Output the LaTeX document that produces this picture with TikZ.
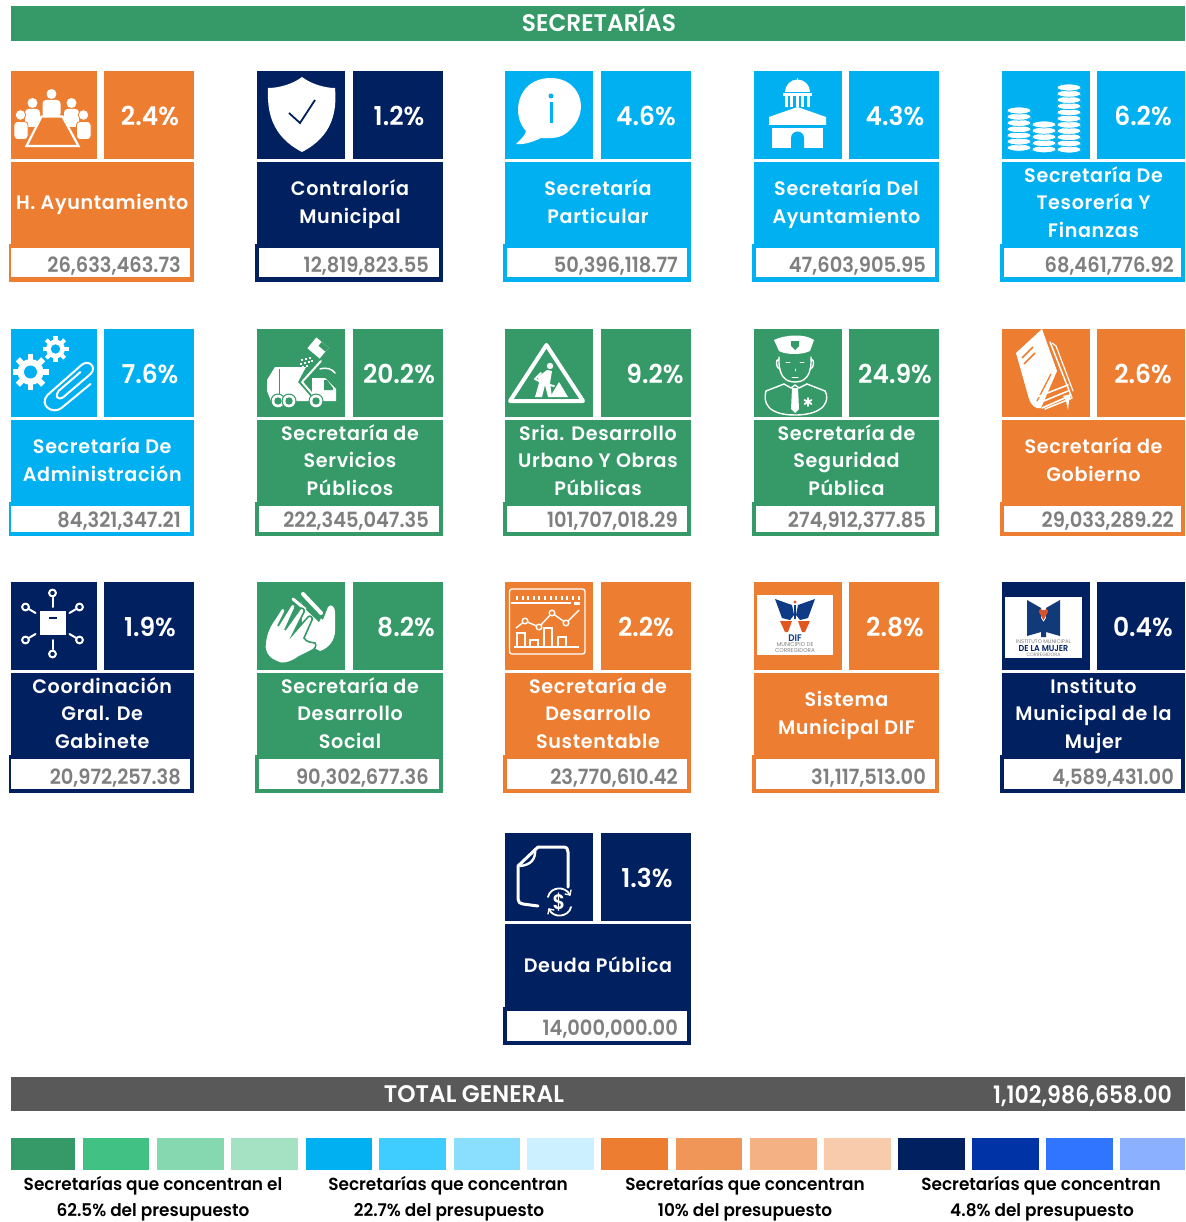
\documentclass[tikz,border=0pt]{standalone}
\usepackage{fontspec}
\setmainfont{Poppins}
\newfontfamily\namefont[FakeStretch=0.98,LetterSpace=3.5]{Poppins SemiBold}
\newfontfamily\valfont[FakeStretch=0.925]{Poppins SemiBold}
\newfontfamily\pctfont[FakeStretch=0.96]{Poppins SemiBold}
\newfontfamily\legfont[FakeStretch=0.965]{Poppins SemiBold}
\newfontfamily\headfont[FakeStretch=0.97]{Poppins SemiBold}
\newfontfamily\totfont[FakeStretch=0.92]{Poppins SemiBold}
\definecolor{grn}{HTML}{359A68}
\definecolor{orn}{HTML}{ED7D31}
\definecolor{blu}{HTML}{00B0F0}
\definecolor{nvy}{HTML}{002060}
\definecolor{gry}{HTML}{595959}
\definecolor{valgray}{HTML}{7F7F7F}
\colorlet{cc}{blu}
\tikzset{
  x=1pt,y=-1pt,
  pcttext/.style={text=white,inner sep=0,font=\pctfont\fontsize{26}{28}\selectfont},
  nametext/.style={text=white,inner sep=0,align=center,font=\namefont\fontsize{19.5}{27.6}\selectfont},
  valtext/.style={text=valgray,inner sep=0,anchor=east,font=\valfont\fontsize{21}{24}\selectfont},
  bartext/.style={text=white,inner sep=0,font=\headfont\fontsize{24}{26}\selectfont},
  legtext/.style={text=black,inner sep=0,font=\legfont\fontsize{17.5}{18}\selectfont},
  ln/.style={draw=white,line width=#1,line cap=round,line join=round},
  ln/.default=2,
  logotxt/.style={inner sep=0,align=center}
}
% columns and rows
\def\colA{\def\xa{10.5}\def\xb{97}\def\xc{104}\def\xd{194}\def\xo{9}\def\xw{11}\def\xe{190}\def\xt{181}\def\xr{194}}
\def\colB{\def\xa{257}\def\xb{345}\def\xc{353}\def\xd{443}\def\xo{255}\def\xw{259}\def\xe{439}\def\xt{429}\def\xr{443}}
\def\colC{\def\xa{505}\def\xb{593}\def\xc{601}\def\xd{691}\def\xo{503}\def\xw{507}\def\xe{687}\def\xt{678}\def\xr{691}}
\def\colD{\def\xa{754}\def\xb{842}\def\xc{849}\def\xd{939}\def\xo{752}\def\xw{756}\def\xe{935}\def\xt{926}\def\xr{939}}
\def\colE{\def\xa{1002}\def\xb{1090}\def\xc{1097}\def\xd{1185}\def\xo{1000}\def\xw{1004}\def\xe{1181}\def\xt{1174}\def\xr{1185}}
\def\rowA{\def\rt{71}\def\rn{162}\def\rb{244}\def\rw{248}\def\rz{277}\def\ro{282}\def\rv{266}}
\def\rowB{\def\rt{329}\def\rn{420}\def\rb{502}\def\rw{506}\def\rz{532}\def\ro{536}\def\rv{521.5}}
\def\rowC{\def\rt{582}\def\rn{673}\def\rb{755}\def\rw{759}\def\rz{789}\def\ro{793}\def\rv{778.5}}
\def\rowD{\def\rt{833}\def\rn{924}\def\rb{1007}\def\rw{1011}\def\rz{1041}\def\ro{1045}\def\rv{1029.5}}
% #1 id, #2 colour, #3 centre x of percent, #4 percent, #5 name, #6 value, #7 icon
\newcommand\card[7]{%
  \colorlet{cc}{#2}%
  \fill[cc] (\xa,\rt) rectangle (\xb,{\rt+88});
  \fill[cc] (\xc,\rt) rectangle (\xd,{\rt+88});
  \fill[cc] (\xa,\rn) rectangle (\xd,\rb);
  \fill[cc] (\xo,\rb) rectangle (\xr,\ro);
  \fill[white] (\xw,\rw) rectangle (\xe,\rz);
  \begin{scope}[shift={(\xa,\rt)}]#7\end{scope}
  \node[pcttext] (#1p) at (#3,{\rt+45}) {#4};
  \node[nametext] (#1n) at ({(\xa+\xd)/2},{(\rn+\rb)/2}) {\vphantom{Áy}#5\vphantom{Áy}};
  \node[valtext] (#1v) at (\xt,\rv) {#6};
}
\newcommand\personic[5]{%
  \fill[white] (#1,#2) circle (#3);
  \fill[white,rounded corners=3.5] ({#1-#4},#5) -- ({#1-#4},{#2+#3+1}) -- ({#1+#4},{#2+#3+1}) -- ({#1+#4},#5) -- cycle;
}
\newcommand\gearic[4]{%
  \fill[white] (#1,#2) circle ({0.72*#3});
  \foreach \k in {1,...,#4}{\draw[white,line width={0.32*#3}] (#1,#2) -- ({#1+#3*cos(360*\k/#4)},{#2+#3*sin(360*\k/#4)});}
  \fill[cc] (#1,#2) circle ({0.36*#3});
}
\newcommand\coinstack[3]{% x, top y, number of coins
  \foreach \k in {#3,...,1}{%
    \fill[white,draw=cc,line width=.7] (#1-12,{#2+3.5+6.2*(\k-1)}) -- ++(0,3.5) arc[start angle=180,end angle=360,x radius=12,y radius=3.5] -- ++(0,-3.5) -- cycle;
    \fill[white,draw=cc,line width=.7] (#1,{#2+3.5+6.2*(\k-1)}) ellipse (12 and 3.5);
  }
}
\newcommand\icPeople{%
  \personic{41}{23}{5}{9}{46}
  \personic{22}{32}{5}{7.5}{56}
  \personic{61}{32}{5}{7.5}{56}
  \draw[white,line width=2.2,fill=cc] (31,45.5) -- (52,45.5) -- (68,75) -- (16,75) -- cycle;
  \fill[white,draw=cc,line width=.8] (10,44) circle (5.3);
  \fill[white,draw=cc,line width=.8] (73,44) circle (5.3);
  \fill[white,draw=cc,line width=.8,rounded corners=3.5] (3.5,68.5) -- (3.5,50.5) -- (17.5,50.5) -- (17.5,68.5) -- cycle;
  \fill[white,draw=cc,line width=.8,rounded corners=3.5] (66,68.5) -- (66,50.5) -- (80.5,50.5) -- (80.5,68.5) -- cycle;
}
\newcommand\icShield{%
  \fill[white] (45,6) .. controls (36,13) and (22,17) .. (11,17) .. controls (10,40) and (14,65) .. (45,81) .. controls (76,65) and (80,40) .. (78,17) .. controls (68,17) and (54,13) .. (45,6) -- cycle;
  \draw[cc,line width=1.8] (32,42) -- (43,52) -- (58,29);
}
\newcommand\icInfo{%
  \fill[white] (11,73) .. controls (15,69) and (20,65) .. (21,60) .. controls (6,45) and (11,7) .. (46,7) .. controls (74,7) and (86,38) .. (66,58) .. controls (56,69) and (45,67) .. (36,67) .. controls (30,70) and (20,74) .. (11,73) -- cycle;
  \fill[cc] (44.5,31) rectangle (47.5,52);
  \fill[cc] (46,25) circle (2.5);
}
\newcommand\icCapitol{%
  \draw[white,line width=1.8] (43.5,7) -- (43.5,14);
  \fill[white] (31,21) arc[start angle=180,end angle=360,radius=12.5] -- cycle;
  \fill[white] (29,22.5) rectangle (58,25.5);
  \foreach \q in {30.5,36,41.5,47,52.5}{\fill[white] (\q,25) rectangle (\q+3,37);}
  \fill[cc] (15,36) rectangle (72,37);
  \fill[white] (15,46) -- (43.5,36) -- (72,46) -- (72,54) -- (15,54) -- cycle;
  \fill[white] (18,57) rectangle (69,77);
  \fill[cc] (37,77) -- (37,67) arc[start angle=180,end angle=360,radius=6.5] -- (50,77) -- cycle;
}
\newcommand\icCoins{%
  \coinstack{17}{36}{7}
  \coinstack{42}{50}{5}
  \coinstack{67}{13}{11}
}
\newcommand\icClip{%
  \gearic{20}{43}{18}{8}
  \gearic{45}{20}{13}{8}
  \draw[ln=2] (80,55) -- (51,79) .. controls (42,86) and (28,76) .. (37,66) -- (71,36) .. controls (78,30) and (87,38) .. (80,45) -- (53,68) .. controls (47,72) and (44,67) .. (48,62) -- (70,43);
}
\newcommand\icTruck{%
  \fill[white] (10,51) -- (18,38) -- (49,38) -- (41,53) -- (54,68) -- (52,72) -- (14,72) -- (10,62) -- cycle;
  \draw[cc,line width=1] (22,40) -- (22,70);
  \fill[white] (55,49) -- (68,49) -- (79,60) -- (79,72) -- (55,72) -- cycle;
  \fill[cc] (67,51) -- (70,51) -- (76,59) -- (76,61) -- (67,61) -- cycle;
  \draw[ln=2] (64,32) -- (45,53) -- (57,67);
  \draw[ln=1.5] (63,40) .. controls (70,38) and (75,40) .. (78,44);
  \fill[white,rotate around={-40:(61,19)}] (53,12) rectangle (69,26);
  \fill[cc,rotate around={-40:(61,19)}] (60,12) rectangle (69,17);
  \foreach \p/\q in {44/30,48/29,52/28,43/34,47/33,51/32,45/37,49/36,54/31}{\fill[white] (\p,\q) rectangle (\p+1.9,\q+1.9);}
  \foreach \p in {21,32,59}{\fill[cc] (\p,72) circle (7.5); \fill[white] (\p,72) circle (6.3); \fill[cc] (\p,72) circle (3.7);}
}
\newcommand\icWork{%
  \draw[white,line width=4,line join=round] (41.4,16) -- (5,72) -- (78,72) -- cycle;
  \fill[white] (45,37) circle (3.2);
  \fill[white] (42,41) -- (47,42) -- (45,54) -- (47,68) -- (43,68) -- (40,56) -- (37,68) -- (30,68) -- (34,54) -- (33,48) -- cycle;
  \draw[ln=2] (36,44) -- (30,50) -- (40,55) -- (49,57);
  \fill[white] (45,68) -- (54,53) -- (63,68) -- cycle;
}
\newcommand\icPolice{%
  \fill[white] (20,11) .. controls (30,6) and (50,4) .. (60,11) -- (56,22) .. controls (48,26) and (32,26) .. (25,22) -- cycle;
  \fill[cc] (37,12) -- (45,12) -- (45,17) -- (41,21) -- (37,17) -- cycle;
  \draw[ln=1.4] (25,28) .. controls (24,48) and (32,53) .. (41,53) .. controls (50,53) and (58,48) .. (57,28);
  \draw[ln=1.4] (25,30) .. controls (21,30) and (22,40) .. (26,40);
  \draw[ln=1.4] (57,30) .. controls (61,30) and (60,40) .. (56,40);
  \draw[ln=1] (38,48) -- (44,48);
  \draw[ln=.9] (32,33) -- (36,33) (46,33) -- (50,33) (41,40) -- (41,42);
  \draw[ln=1.4] (30,55) -- (12,62) .. controls (9,72) and (12,86) .. (41,86) .. controls (72,86) and (76,70) .. (71,62) -- (53,55);
  \draw[ln=1.4] (30,55) -- (37,59) -- (41,56) -- (45,59) -- (53,55);
  \fill[white] (38,59) -- (44,59) -- (45,80) -- (41,84) -- (37,80) -- cycle;
  \draw[ln=1.8] (54,69) -- (54,77) (50.5,71) -- (57.5,75) (50.5,75) -- (57.5,71);
}
\newcommand\icBook{%
  \draw[ln=1.5] (48,13) -- (70,69) -- (43,80);
  \draw[ln=1.2] (50,14) -- (54,17) -- (71,62);
  \fill[white] (40,0) -- (14,24) -- (27,70) .. controls (29,76) and (34,81) .. (39,79) -- (55,42) -- cycle;
  \draw[cc,line width=1.6] (20,29) -- (31,18) (22,35) -- (33,24);
  \draw[cc,line width=1.3] (49,45) -- (35,72);
  \draw[ln=1.6] (35,68) -- (66,56) (37,74) -- (66,62) (40,79) -- (65,68);
  \fill[white] (61,67) -- (69,65) -- (67,72) -- (66,81) -- (64,72) -- cycle;
}
\newcommand\icNet{%
  \fill[white] (29,29) rectangle (55,53);
  \fill[cc] (38,35) rectangle (46,37);
  \foreach \p/\q/\r/\s in {42/11/42/25, 15/25/25/31, 69/25/59/31, 15/58/25/52, 69/58/59/52, 42/72/42/58}{%
    \draw[ln=2] (\p,\q) -- (\r,\s);
    \fill[cc] (\p,\q) circle (4.4);
    \draw[white,line width=2] (\p,\q) circle (3.4);
  }
}
\newcommand\icHands{%
  \fill[white] (44,20) -- (66,38) -- (71,25) .. controls (74,21) and (78,25) .. (78,30) -- (78,49) .. controls (78,58) and (72,66) .. (63,69) -- (46,60) -- cycle;
  \fill[cc] (43,22) -- (47,18) -- (64,36) -- (62,40) -- cycle;
  \draw[ln=4] (46,12) -- (64,31);
  \draw[ln=3] (36,17) -- (48,27);
  \fill[white,draw=cc,line width=1.6] (8,62) .. controls (9,50) and (14,42) .. (17,38) -- (24,27) .. controls (26,25) and (29,27) .. (28,30) -- (21,44) -- (34,23) .. controls (36,21) and (39,23) .. (38,26) -- (28,48) -- (43,27) .. controls (45,25) and (48,27) .. (47,30) -- (36,52) -- (51,35) .. controls (53,33) and (56,35) .. (55,38) -- (47,56) .. controls (50,60) and (52,60) .. (58,61) .. controls (60,64) and (58,67) .. (54,69) -- (42,75) .. controls (32,82) and (24,83) .. (18,79) .. controls (11,76) and (7,70) .. (8,62) -- cycle;
}
\newcommand\icChart{%
  \draw[white,line width=1.4,rounded corners=2.5] (4.5,7) rectangle (80,72);
  \foreach \k in {0,...,11}{\fill[white] ({11+5.6*\k},13.5) rectangle ({13+5.6*\k},18);}
  \draw[white,line width=1.2] (6,21) -- (66,21);
  \fill[white] (69,19.5) rectangle (75,22.5);
  \foreach \p/\q in {16/51,29/58,43/46,57/55}{\draw[white,line width=1.4] (\p-4,64.5) -- (\p-4,\q) -- (\p+4,\q) -- (\p+4,64.5);}
  \draw[white,line width=1.4] (9,65) -- (74,65);
  \draw[white,line width=1.4] (11,46) -- (20,39) -- (34,45) -- (47,31) -- (61,41) -- (74,28);
  \foreach \p/\q in {20/39,34/45,47/31,61/41}{\fill[cc,draw=white,line width=1.4] (\p,\q) circle (2.8);}
}
\newcommand\icDif{%
  \fill[white] (2.6,13) rectangle (79,73);
  \definecolor{difb}{HTML}{0F3A86}\definecolor{difo}{HTML}{E2561F}
  \fill[difb] (21,17) -- (38,23) -- (40,33) -- (36,38) -- (28,36) -- cycle;
  \fill[difb] (61,17) -- (44,23) -- (42,33) -- (46,38) -- (54,36) -- cycle;
  \fill[difo] (41,20) circle (1.6);
  \draw[difb,line width=1.6] (41,23) -- (41,37);
  \fill[difo] (26,39) -- (38,39) -- (34,50) -- (31,50) -- cycle;
  \fill[difo] (56,39) -- (44,39) -- (48,50) -- (51,50) -- cycle;
  \node[logotxt,text=difb,font=\valfont\fontsize{9.5}{10}\selectfont] (diflogoa) at (41,56) {DIF};
  \node[logotxt,text=gray,font=\fontsize{5.6}{5.4}\selectfont] (diflogob) at (41,65.5) {MUNICIPIO DE\\CORREGIDORA};
}
\newcommand\icMujer{%
  \fill[white] (3,15) rectangle (80,76);
  \definecolor{mujb}{HTML}{113A78}\definecolor{mujo}{HTML}{D9532A}
  \fill[mujb] (25,18) -- (39,26) -- (39,50) -- (25,54) -- cycle;
  \fill[mujb] (58,18) -- (44,26) -- (44,50) -- (58,54) -- cycle;
  \fill[mujo] (37,28) -- (46,28) -- (41.5,38) -- cycle;
  \fill[mujb] (39,36) -- (41.5,40) -- (44,36) -- (44,55) -- (39,55) -- cycle;
  \fill[mujo] (39,26) -- (41.5,36) -- (44,26) -- (46,30) -- (41.5,38) -- (37,30) -- cycle;
  \node[logotxt,text=gray,font=\fontsize{5.3}{6}\selectfont] (mujlogoa) at (41.5,60) {INSTITUTO MUNICIPAL};
  \node[logotxt,text=nvy,font=\valfont\fontsize{8.6}{9}\selectfont] (mujlogob) at (41.5,66.5) {DE LA MUJER};
  \node[logotxt,text=gray,font=\fontsize{4.8}{5}\selectfont] (mujlogoc) at (41.5,72.5) {CORREGIDORA};
}
\newcommand\icDebt{%
  \draw[ln=3] (33,14) -- (58,14) .. controls (62,14) and (63,16) .. (63,19) -- (63,54);
  \draw[ln=3] (33,14) -- (13,33) -- (13,66) .. controls (13,69) and (15,71) .. (18,71) -- (33,73);
  \draw[ln=2.4] (30,16) .. controls (31,26) and (26,32) .. (15,33);
  \draw[ln=1.8] (43,64) .. controls (45,54) and (60,52) .. (65,62);
  \draw[ln=1.8] (66,74) .. controls (64,84) and (48,86) .. (44,76);
  \draw[ln=1.3] (65,62) -- (66,57) (65,62) -- (60,61) (44,76) -- (43,81) (44,76) -- (49,77);
  \node[inner sep=0,text=white,font=\valfont\fontsize{21}{22}\selectfont] (debtsign) at (54,69.5) {\$};
}
\begin{document}
\begin{tikzpicture}
\useasboundingbox (0,0) rectangle (1185,1222);
\fill[white] (0,0) rectangle (1185,1222);
% header
\fill[grn] (10.5,6.5) rectangle (1185,41);
\node[bartext] (head) at (599,20) {SECRETARÍAS};
% cards
\colA\rowA\card{a}{orn}{150}{2.4\%}{H. Ayuntamiento}{26,633,463.73}{\icPeople}
\colB\rowA\card{b}{nvy}{399}{1.2\%}{Contraloría\\Municipal}{12,819,823.55}{\icShield}
\colC\rowA\card{c}{blu}{646}{4.6\%}{Secretaría\\Particular}{50,396,118.77}{\icInfo}
\colD\rowA\card{d}{blu}{895}{4.3\%}{Secretaría Del\\Ayuntamiento}{47,603,905.95}{\icCapitol}
\colE\rowA\card{e}{blu}{1143}{6.2\%}{Secretaría De\\Tesorería Y\\Finanzas}{68,461,776.92}{\icCoins}
\colA\rowB\card{f}{blu}{150}{7.6\%}{Secretaría De\\Administración}{84,321,347.21}{\icClip}
\colB\rowB\card{g}{grn}{399}{20.2\%}{Secretaría de\\Servicios\\Públicos}{222,345,047.35}{\icTruck}
\colC\rowB\card{h}{grn}{655}{9.2\%}{Sria. Desarrollo\\Urbano Y Obras\\Públicas}{101,707,018.29}{\icWork}
\colD\rowB\card{i}{grn}{895}{24.9\%}{Secretaría de\\Seguridad\\Pública}{274,912,377.85}{\icPolice}
\colE\rowB\card{j}{orn}{1143}{2.6\%}{Secretaría de\\Gobierno}{29,033,289.22}{\icBook}
\colA\rowC\card{k}{nvy}{150}{1.9\%}{Coordinación\\Gral. De\\Gabinete}{20,972,257.38}{\icNet}
\colB\rowC\card{l}{grn}{406}{8.2\%}{Secretaría de\\Desarrollo\\Social}{90,302,677.36}{\icHands}
\colC\rowC\card{m}{orn}{646}{2.2\%}{Secretaría de\\Desarrollo\\Sustentable}{23,770,610.42}{\icChart}
\colD\rowC\card{n}{orn}{895}{2.8\%}{Sistema\\Municipal DIF}{31,117,513.00}{\icDif}
\colE\rowC\card{o}{nvy}{1143}{0.4\%}{Instituto\\Municipal de la\\Mujer}{4,589,431.00}{\icMujer}
\colC\rowD\card{p}{nvy}{647}{1.3\%}{Deuda Pública}{14,000,000.00}{\icDebt}
% total
\fill[gry] (10.5,1077) rectangle (1185,1111);
\node[bartext] (total) at (474,1094) {TOTAL GENERAL};
\node[bartext,anchor=east,font=\totfont\fontsize{24}{26}\selectfont] (totalv) at (1172,1096) {1,102,986,658.00};
% swatches
\foreach \p/\q/\h in {10.5/75/359A68,83/149/41C284,157/224/85D8AF,231/298/A5E2C4,
  306/372/00B0F0,379/446/3FCDFF,453.5/520/8ADFFF,527/594/CCF0FF,
  601/668/ED7D31,676/742/F19659,750/817/F4B183,824/891/F8CBAD,
  898/965/002060,972/1039/0033A6,1046/1113/2F75FF,1120/1185/8AB0FF}{%
  \definecolor{sw}{HTML}{\h}\fill[sw] (\p,1138) rectangle (\q,1170);
}
\node[legtext] (la) at (153,1186) {Secretarías que concentran el};
\node[legtext] (lb) at (153,1212) {62.5\% del presupuesto};
\node[legtext] (lc) at (448,1186) {Secretarías que concentran};
\node[legtext] (ld) at (449,1212) {22.7\% del presupuesto};
\node[legtext] (le) at (745,1186) {Secretarías que concentran};
\node[legtext] (lf) at (745,1212) {10\% del presupuesto};
\node[legtext] (lg) at (1041,1186) {Secretarías que concentran};
\node[legtext] (lh) at (1042,1212) {4.8\% del presupuesto};
\end{tikzpicture}
\end{document}
